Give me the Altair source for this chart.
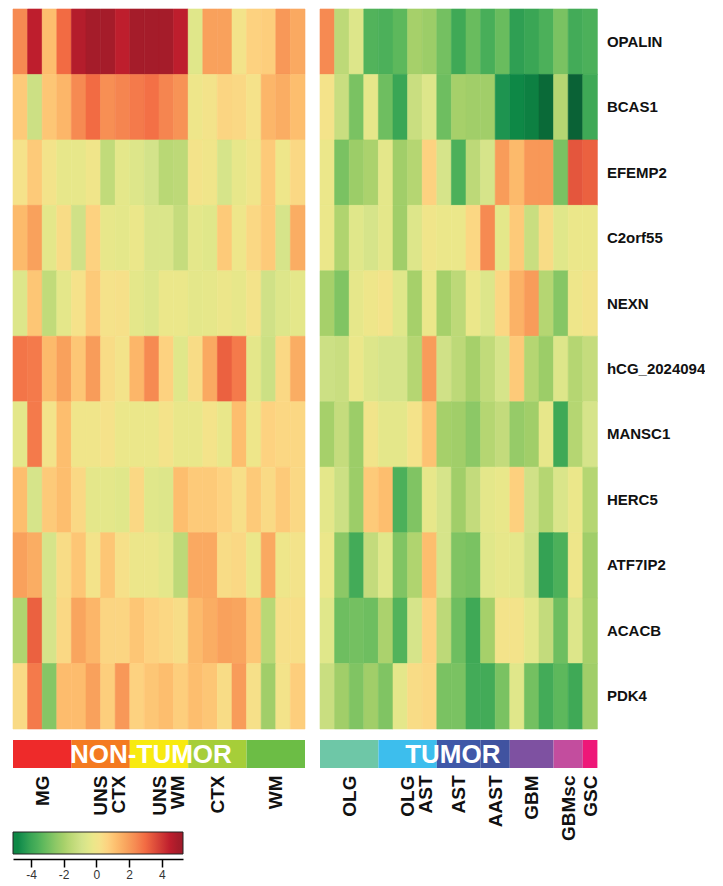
import altair as alt
import pandas as pd

genes = ["OPALIN", "BCAS1", "EFEMP2", "C2orf55", "NEXN", "hCG_2024094",
         "MANSC1", "HERC5", "ATF7IP2", "ACACB", "PDK4"]

nontumor_values = [
    [2.4, 4.5, 1.2, 3.0, 4.7, 5.0, 5.0, 4.5, 5.0, 5.0, 5.0, 4.5, -0.5, 1.9, 1.9, 0.1, 0.7, 0.8, 2.1, 1.7],
    [0.9, -1.1, 1.0, 1.4, 2.4, 3.0, 2.3, 2.5, 2.7, 2.9, 2.5, 2.2, -0.1, 0.1, 0.6, 0.5, 0.2, 1.4, 1.6, 1.2],
    [0.2, 0.9, 0.1, -0.3, -0.3, 0.0, -1.4, -0.4, -0.6, -0.9, -1.6, -1.5, 0.1, 0.0, -0.8, -0.3, 0.0, 0.9, -0.1, 0.5],
    [1.3, 1.9, -0.4, 0.4, -1.0, 0.7, -0.3, -0.4, -0.2, -0.7, -0.7, -1.3, -0.4, -0.5, 0.9, -0.1, 0.5, 0.9, -0.8, 1.6],
    [-0.6, 1.0, -1.4, -0.4, 0.2, 0.9, 0.2, 0.25, -0.4, -0.6, -0.2, -0.2, -0.4, -0.35, -0.15, -0.3, 0.1, -1.0, -0.6, -0.4],
    [2.8, 2.7, 1.3, 1.9, 1.0, 2.0, 0.4, 0.1, 1.4, 2.4, 0.7, -0.5, 0.4, 1.7, 3.2, 2.7, -0.4, -1.1, 0.5, 1.6],
    [-0.4, 2.7, 0.1, 1.2, 0.0, 0.0, 0.2, -0.2, -0.2, -0.2, 0.15, -0.25, -0.25, 0.15, -0.25, 1.2, -0.1, 0.7, 0.55, 0.55],
    [1.2, -0.8, 0.9, 1.2, 0.5, -0.4, -0.4, -0.5, 0.5, -0.5, -0.6, 1.2, 0.9, 0.9, 0.7, 0.3, 0.9, 0.45, 0.9, 0.5],
    [1.9, 1.6, -0.8, 0.4, 1.0, 0.1, 1.0, 0.25, -0.15, -0.15, -0.4, -1.5, 1.7, 1.7, 0.4, 0.5, -0.2, 1.7, -0.1, 0.1],
    [-1.8, 3.2, -0.8, 0.5, 1.8, 1.4, 0.6, 0.6, 1.0, 0.7, 0.55, 0.35, 1.3, 1.6, 1.9, 1.8, 1.0, -1.6, 0.25, 0.3],
    [0.45, 2.7, -2.6, 1.25, 1.25, 1.9, 0.8, 2.1, 0.7, 1.0, 1.2, 0.8, 1.2, 1.0, 0.4, 2.0, 0.25, -2.1, 0.1, 0.8],
]

tumor_values = [
    [2.4, -1.5, -0.6, -3.5, -3.6, -3.3, -2.0, -2.2, -2.9, -3.9, -3.1, -3.7, -3.1, -4.2, -4.0, -3.6, -2.8, -3.8, -3.6],
    [0.15, -1.2, -2.8, -0.35, -3.0, -4.0, -1.2, -0.6, -3.0, -2.0, -2.1, -2.1, -4.5, -4.8, -4.9, -5.2, -1.7, -5.3, -3.9],
    [-0.2, -2.8, -2.2, -1.9, -0.4, -2.1, -1.7, 0.7, -0.8, -3.6, -1.5, -0.8, 2.0, 1.3, 2.1, 2.1, -2.8, 3.4, 3.2],
    [-0.2, -1.8, -0.5, -0.8, -0.4, -2.1, -0.6, 0.0, -0.2, -0.2, 0.55, 2.4, -0.4, 0.9, -1.2, 0.4, -0.5, -0.2, -0.2],
    [-2.0, -2.7, -0.35, -0.1, 0.1, -0.5, -2.0, -0.2, -2.0, -1.5, -0.2, -0.6, 0.55, 1.5, 2.0, -1.7, -2.6, -0.1, 0.1],
    [-1.1, -1.2, -0.2, -0.6, -0.8, -0.8, -1.7, 2.0, -1.0, -1.5, -2.0, -1.4, -0.8, 0.9, -1.7, -2.2, -0.6, -1.7, -1.3],
    [-2.0, -1.3, -2.2, 0.05, -0.4, -0.4, 0.15, 1.1, -2.0, -2.1, -2.5, -1.7, -1.35, -2.3, -2.1, -0.3, -3.9, -1.7, -0.8],
    [-0.4, -1.1, -2.2, 0.9, 1.2, -3.6, -2.7, -0.3, -0.8, -2.1, -1.35, -0.4, -0.25, 0.75, -1.0, -1.7, -0.7, -0.2, -1.7],
    [-0.2, -2.5, -3.8, -1.35, -0.5, -2.7, -1.8, 1.2, -0.8, -2.7, -2.8, -0.5, -0.3, -0.4, -1.1, -4.1, -3.6, -0.1, -2.1],
    [-0.5, -3.0, -2.9, -3.0, -1.9, -3.5, -0.8, 0.7, -1.5, -3.0, -3.9, -2.0, 0.1, 0.1, -0.4, -1.35, -3.0, -0.6, -2.0],
    [-1.2, -2.1, -2.7, -2.1, -2.7, -0.4, 0.4, 0.55, -2.8, -2.8, -3.8, -3.8, -2.8, -0.5, -2.9, -3.8, -3.3, -3.9, -2.1],
]

nt_groups = ["MG", "UNS CTX", "UNS WM", "CTX", "WM"]
nt_sizes = [4, 4, 4, 4, 4]
nt_colors = ["#EE2A2A", "#F47A20", "#F8EA10", "#A6CE39", "#6CBD45"]

t_groups = ["OLG", "OLG AST", "AST", "AAST", "GBM", "GBMsc", "GSC"]
t_sizes = [4, 4, 3, 2, 3, 2, 1]
t_colors = ["#6EC7A7", "#3DBEED", "#3F58A8", "#4053A0", "#7E51A1", "#C34D9E", "#EE1778"]

nt_title, nt_title_pos = "NON-TUMOR", 9.45
t_title, t_title_pos = "TUMOR", 9.1

scale_domain = [-5.3, -5.2, -4.8, -4.5, -4.0, -3.6, -3.3, -2.8, -2.5, -2.0, -1.7, -1.3,
                -0.9, -0.5, -0.2, 0.2, 0.7, 1.2, 1.8, 2.4, 3.0, 4.5, 5.0, 5.3]
scale_range = ["#0A6236", "#0A6A38", "#0E8846", "#1E9450", "#3AA655", "#4CB05A", "#5DB85C",
               "#7AC262", "#8CC866", "#A6D06A", "#B5D672", "#C5DC7D", "#D3E38A", "#E0E78A",
               "#EBE78A", "#F5E28A", "#FDD280", "#FDBE6E", "#F9A55E", "#F68A52", "#F26B43",
               "#BE1E2D", "#A51C2A", "#A01A2A"]

cb_lo, cb_hi = -5.1, 5.3
cb_ticks = [-4, -2, 0, 2, 4]

CELL_W = 14.6
HEAT_H = 720
SANS = "Liberation Sans, Arial"


def color_scale():
    return alt.Scale(domain=scale_domain, range=scale_range, interpolate="rgb")


def heat(values, show_axis):
    recs = []
    for g, row in zip(genes, values):
        for i, v in enumerate(row):
            recs.append({"gene": g, "col": i, "value": v})
    df = pd.DataFrame(recs)
    ncols = len(values[0])
    if show_axis:
        y_axis = alt.Axis(orient="right", title=None, domain=False, ticks=False,
                          labelFont=SANS, labelFontWeight="bold", labelFontSize=15,
                          labelPadding=9, labelColor="#111111")
    else:
        y_axis = None
    return alt.Chart(df).mark_rect(strokeWidth=0.6).encode(
        x=alt.X("col:O", axis=None, scale=alt.Scale(paddingInner=0, paddingOuter=0)),
        y=alt.Y("gene:N", sort=genes, axis=y_axis,
                scale=alt.Scale(paddingInner=0, paddingOuter=0)),
        color=alt.Color("value:Q", scale=color_scale(), legend=None),
        stroke=alt.Stroke("value:Q", scale=color_scale(), legend=None),
    ).properties(width=ncols * CELL_W, height=HEAT_H)


def groups(names, sizes, colors, title, title_pos):
    starts, ends, centers = [], [], []
    s = 0
    for n in sizes:
        starts.append(s)
        ends.append(s + n)
        centers.append(s + n / 2)
        s += n
    ncols = s
    df = pd.DataFrame({"name": names, "start": starts, "end": ends})
    expr = ""
    for c, n in zip(centers, names):
        expr += f"datum.value === {c} ? '{n}' : "
    expr = "split(" + expr + "'', ' ')"
    axis = alt.Axis(values=centers, labelExpr=expr, title=None, domain=False, ticks=False,
                    grid=False, labelAngle=270, labelAlign="right", labelBaseline="middle",
                    labelPadding=7, labelFont=SANS, labelFontWeight="bold",
                    labelFontSize=19, labelLineHeight=18, labelColor="#111111",
                    labelOverlap=False, labelFlush=False, labelBound=False)
    xs = alt.Scale(domain=[0, ncols], nice=False, zero=False)
    bars = alt.Chart(df).mark_rect().encode(
        x=alt.X("start:Q", scale=xs, axis=axis),
        x2="end:Q",
        color=alt.Color("name:N", scale=alt.Scale(domain=names, range=colors), legend=None),
    )
    txt = alt.Chart(pd.DataFrame({"t": [title], "pos": [title_pos]})).mark_text(
        font=SANS, fontWeight="bold", fontSize=26, color="white",
        baseline="middle", align="center", dy=1,
    ).encode(x=alt.X("pos:Q", scale=xs, axis=axis), text="t:N")
    return alt.layer(bars, txt).properties(width=ncols * CELL_W, height=28)


# colour bar (same stops as the heat-map scale)
stops = []
span = cb_hi - cb_lo
inside = [(d, c) for d, c in zip(scale_domain, scale_range) if cb_lo <= d <= cb_hi]
stops.append(alt.GradientStop(offset=0, color=inside[0][1]))
for d, c in inside:
    stops.append(alt.GradientStop(offset=(d - cb_lo) / span, color=c))
stops.append(alt.GradientStop(offset=1, color=inside[-1][1]))
grad = alt.Gradient(gradient="linear", stops=stops, x1=0, x2=1, y1=0, y2=0)

colorbar = alt.Chart(pd.DataFrame({"lo": [cb_lo], "hi": [cb_hi]})).mark_rect(
    fill=grad, stroke="#222222", strokeWidth=1
).encode(
    x=alt.X("lo:Q", scale=alt.Scale(domain=[cb_lo, cb_hi], nice=False, zero=False),
            axis=alt.Axis(values=cb_ticks, labelExpr="'' + datum.value", title=None,
                          offset=5, grid=False,
                          domainColor="black", domainWidth=1.5, tickColor="black",
                          tickSize=8, tickWidth=1.5, labelFontSize=12,
                          labelFont=SANS, labelColor="#333333", labelPadding=2)),
    x2="hi:Q",
).properties(width=170, height=22)

left = alt.vconcat(
    alt.vconcat(heat(nontumor_values, False),
                groups(nt_groups, nt_sizes, nt_colors, nt_title, nt_title_pos),
                spacing=10).resolve_scale(color="independent", stroke="independent"),
    colorbar, spacing=15,
).resolve_scale(color="independent", stroke="independent")

right = alt.vconcat(
    heat(tumor_values, True),
    groups(t_groups, t_sizes, t_colors, t_title, t_title_pos),
    spacing=10,
).resolve_scale(color="independent", stroke="independent")

chart = alt.hconcat(left, right, spacing=13,
                    padding={"left": 4, "top": 0, "right": 0, "bottom": 0}
                    ).resolve_scale(color="independent", stroke="independent"
                    ).configure_view(stroke=None)

chart.save("out.html", embed_options={"renderer": "svg", "actions": False})
